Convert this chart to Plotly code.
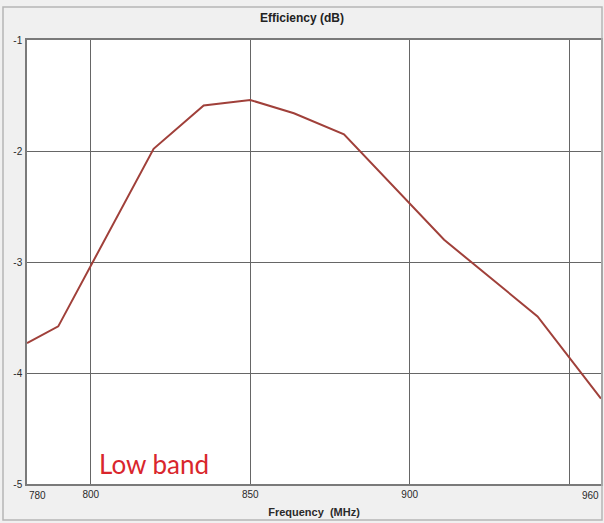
import plotly.graph_objects as go

freq_mhz = [780, 789.8, 819.7, 835.4, 850, 863.7, 879.4, 910.8, 940.1, 960]
efficiency_db = [-3.73, -3.58, -1.98, -1.59, -1.54, -1.66, -1.85, -2.80, -3.49, -4.23]

x_tick_vals = [800, 850, 900, 950]
x_tick_text = ["800", "850", "900", ""]
x_edge_labels = [(780, "780", "left"), (960, "960", "right")]
y_tick_vals = [-1, -2, -3, -4, -5]
y_tick_text = ["-1", "-2", "-3", "-4", "-5"]

W, H = 604, 523
ML, MR, MT, MB = 27, 3, 40, 39
pw, ph = W - ML - MR, H - MT - MB

def px(xp):
    return (xp - ML) / pw

def py(yp):
    return 1 - (yp - MT) / ph

fig = go.Figure()
fig.add_trace(go.Scatter(
    x=freq_mhz, y=efficiency_db, mode="lines",
    line=dict(color="#a0403a", width=2),
    showlegend=False, hoverinfo="skip",
))

axis_font = dict(family="Liberation Sans Narrow, Liberation Sans, Arial", size=10, color="#2a2a2a")

fig.update_layout(
    width=W, height=H,
    margin=dict(l=ML, r=MR, t=MT, b=MB, pad=0, autoexpand=False),
    paper_bgcolor="#f0f0f0",
    plot_bgcolor="white",
    title=dict(text="<b>Efficiency (dB)</b>", x=0.5, xanchor="center",
               y=1 - 18 / H, yanchor="middle",
               font=dict(family="Liberation Sans Narrow, Liberation Sans, Arial", size=12, color="#222222")),
    xaxis=dict(range=[780, 960], tickvals=x_tick_vals, ticktext=x_tick_text,
               showgrid=True, gridcolor="#666666", gridwidth=1.4, automargin=False,
               showline=True, linecolor="#7a7a7a", linewidth=1.5, mirror=True,
               ticks="", tickfont=axis_font, zeroline=False,
               title=dict(text="<b>Frequency  (MHz)</b>", standoff=10,
                          font=dict(family="Liberation Sans Narrow, Liberation Sans, Arial", size=11, color="#2a2a2a"))),
    yaxis=dict(range=[-5, -1], tickvals=y_tick_vals, ticktext=y_tick_text,
               showgrid=True, gridcolor="#666666", gridwidth=1.4, automargin=False,
               showline=True, linecolor="#7a7a7a", linewidth=1.5, mirror=True,
               ticks="", tickfont=axis_font, zeroline=False, ticklabelstandoff=1),
)

for xv, txt, anchor in x_edge_labels:
    fig.add_annotation(x=xv, y=0, xref="x", yref="paper", text=txt, showarrow=False,
                       xanchor=anchor, yanchor="top", yshift=-4, font=axis_font)

fig.add_annotation(x=px(97), y=py(464), xref="paper", yref="paper", text="Low band",
                   showarrow=False, xanchor="left", yanchor="middle",
                   font=dict(family="Lato, Open Sans, sans-serif", size=26, color="#d9262c"))

# outer panel frame
fig.add_shape(type="rect", xref="paper", yref="paper",
              x0=px(3), x1=px(602), y0=py(520), y1=py(7),
              line=dict(color="#b5b5b5", width=1.5), fillcolor="rgba(0,0,0,0)", layer="above")

fig.write_html("out.html", config={"displayModeBar": False},
               post_script="document.body.style.margin='0px';document.body.style.overflow='hidden';")
